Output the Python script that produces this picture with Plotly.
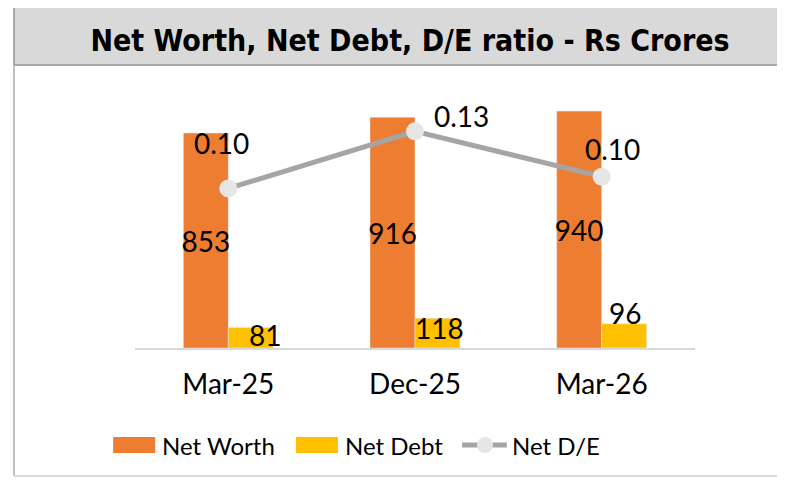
"""Net Worth / Net Debt / D-E ratio combo chart with Plotly."""

import plotly.graph_objects as go

# data
periods = ["Mar-25", "Dec-25", "Mar-26"]
net_worth = [853, 916, 940]
net_debt = [81, 118, 96]
net_de = [0.095, 0.129, 0.102]

ORANGE = "#ED7D31"
YELLOW = "#FFC000"
LINE_GREY = "#A5A5A5"
MARKER_GREY = "#E7E6E6"
FONT = "Lato, Noto Sans, sans-serif"

# the page body adds an 8px margin, so keep the figure small enough
# that the 785x485 window shows no scrollbars
W, H = 769, 469

fig = go.Figure()

fig.add_trace(go.Bar(
    x=periods,
    y=net_worth,
    name="Net Worth",
    marker=dict(color=ORANGE),
    text=[str(v) for v in net_worth],
    textposition="inside",
    insidetextanchor="middle",
    textangle=0,
    constraintext="none",
    textfont=dict(size=28, color="black", family=FONT),
))

fig.add_trace(go.Bar(
    x=periods,
    y=net_debt,
    name="Net Debt",
    marker=dict(color=YELLOW),
))

fig.add_trace(go.Scatter(
    x=periods,
    y=net_de,
    name="Net D/E",
    yaxis="y2",
    mode="lines+markers",
    line=dict(color=LINE_GREY, width=5),
    marker=dict(color=MARKER_GREY, size=18),
))

# labels were nudged around by hand in the original, so place them as annotations
debt_shifts = [(37, -7), (24, -10), (23, 11)]
for p, v, (dx, dy) in zip(periods, net_debt, debt_shifts):
    fig.add_annotation(x=p, y=v, yref="y", text=str(v), showarrow=False,
                       xshift=dx, yshift=dy,
                       font=dict(size=28, color="black", family=FONT))

de_shifts = [(-7, 45), (46, 15), (11, 28)]
for p, v, (dx, dy) in zip(periods, net_de, de_shifts):
    fig.add_annotation(x=p, y=v, yref="y2", text=f"{v:.2f}", showarrow=False,
                       xshift=dx, yshift=dy,
                       font=dict(size=28, color="black", family=FONT))

# title banner and outer frame (runs off the right edge like the original)
fig.add_shape(type="rect", xref="paper", yref="paper",
              x0=-0.216, x1=1.4, y0=1.123, y1=1.45,
              fillcolor="#D9D9D9", line=dict(color="#A6A6A6", width=2),
              layer="below")
fig.add_shape(type="line", xref="paper", yref="paper",
              x0=-0.216, x1=-0.216, y0=1.123, y1=-0.508,
              line=dict(color="#BFBFBF", width=2))
fig.add_shape(type="line", xref="paper", yref="paper",
              x0=-0.216, x1=1.4, y0=-0.508, y1=-0.508,
              line=dict(color="#D9D9D9", width=2))

# hand-drawn legend so the swatches match the wide Excel ones
fig.add_shape(type="rect", xref="paper", yref="paper",
              x0=-0.039, x1=0.036, y0=-0.417, y1=-0.353,
              fillcolor=ORANGE, line=dict(width=0))
fig.add_shape(type="rect", xref="paper", yref="paper",
              x0=0.2875, x1=0.3625, y0=-0.417, y1=-0.353,
              fillcolor=YELLOW, line=dict(width=0))
fig.add_shape(type="line", xref="paper", yref="paper",
              x0=0.584, x1=0.664, y0=-0.385, y1=-0.385,
              line=dict(color=LINE_GREY, width=5))
fig.add_shape(type="circle", xref="paper", yref="paper",
              x0=0.625 - 0.0143, x1=0.625 + 0.0143,
              y0=-0.385 - 0.0317, y1=-0.385 + 0.0317,
              fillcolor=MARKER_GREY, line=dict(width=0))
legend_items = [("Net Worth", 0.0446), ("Net Debt", 0.3714), ("Net D/E", 0.6696)]
for name, lx in legend_items:
    fig.add_annotation(xref="paper", yref="paper", x=lx, y=-0.385,
                       xanchor="left", yanchor="middle", text=name,
                       showarrow=False,
                       font=dict(size=24, color="black", family=FONT))

fig.update_layout(
    width=W,
    height=H,
    margin=dict(l=127, r=W - 127 - 560, t=88, b=H - 88 - 252),
    paper_bgcolor="white",
    plot_bgcolor="white",
    font=dict(family=FONT, color="black", size=24),
    title=dict(
        text="<b>Net Worth, Net Debt, D/E ratio - Rs Crores</b>",
        x=402 / W, xanchor="center",
        y=1 - 32 / H, yanchor="middle",
        font=dict(family="DejaVu Sans Condensed, Liberation Sans Narrow, sans-serif",
                  size=30, color="black"),
    ),
    barmode="group",
    bargap=0.518,
    bargroupgap=0,
    showlegend=False,
    xaxis=dict(
        showline=True, linecolor="#D9D9D9", linewidth=2,
        ticks="", showgrid=False,
        tickfont=dict(size=28, family=FONT),
        ticklabelstandoff=10,
    ),
    yaxis=dict(range=[0, 1000], visible=False, showgrid=False),
    yaxis2=dict(range=[0, 0.15], overlaying="y", side="right",
                visible=False, showgrid=False),
)

fig.write_html("out.html")
